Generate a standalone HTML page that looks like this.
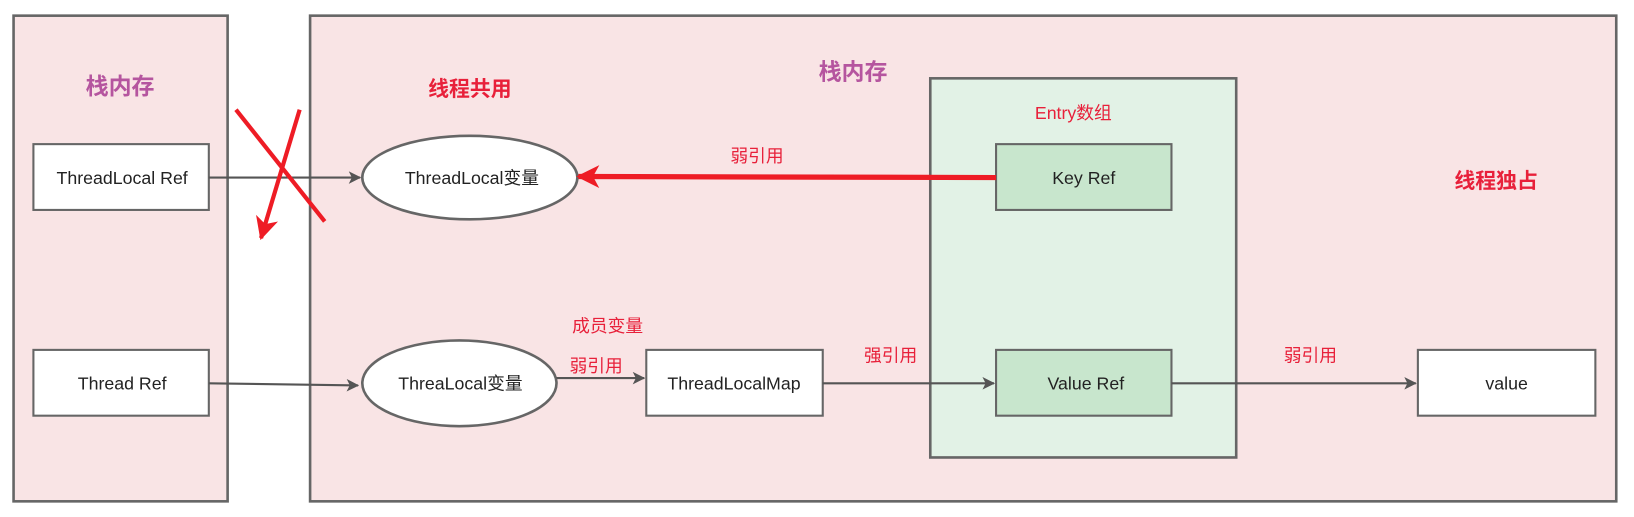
<!DOCTYPE html>
<html><head><meta charset="utf-8"><style>
html,body{margin:0;padding:0;background:#fff;width:1634px;height:517px;overflow:hidden}
svg{display:block}
text{font-family:"Liberation Sans","Noto Sans CJK SC",sans-serif}
</style></head><body>
<svg width="1634" height="517" viewBox="0 0 1565 495" preserveAspectRatio="none" xmlns="http://www.w3.org/2000/svg">
<defs>
<marker id="a" markerWidth="12" markerHeight="12" refX="11" refY="6" orient="auto" markerUnits="userSpaceOnUse"><path d="M0,0 L12,6 L0,12 L3,6 z" fill="#555"/></marker>
<marker id="r" markerWidth="22" markerHeight="22" refX="20" refY="11" orient="auto" markerUnits="userSpaceOnUse"><path d="M0,0 L22,11 L0,22 L6,11 z" fill="#ee1c25"/></marker>
</defs>
<rect x="13" y="15" width="205" height="465" fill="#f9e4e5" stroke="#666" stroke-width="2.5"/>
<rect x="297" y="15" width="1251" height="465" fill="#f9e4e5" stroke="#666" stroke-width="2.5"/>
<rect x="891" y="75" width="293" height="363" fill="#e2f2e6" stroke="#666" stroke-width="2.5"/>
<rect x="32" y="138" width="168" height="63" fill="#fff" stroke="#666" stroke-width="2"/>
<rect x="32" y="335" width="168" height="63" fill="#fff" stroke="#666" stroke-width="2"/>
<rect x="619" y="335" width="169" height="63" fill="#fff" stroke="#666" stroke-width="2"/>
<rect x="954" y="138" width="168" height="63" fill="#c8e6cd" stroke="#666" stroke-width="2"/>
<rect x="954" y="335" width="168" height="63" fill="#c8e6cd" stroke="#666" stroke-width="2"/>
<rect x="1358" y="335" width="170" height="63" fill="#fff" stroke="#666" stroke-width="2"/>
<ellipse cx="450" cy="170" rx="103" ry="40" fill="#fff" stroke="#666" stroke-width="2.5"/>
<ellipse cx="440" cy="367" rx="93" ry="41" fill="#fff" stroke="#666" stroke-width="2.5"/>
<g stroke="#555" stroke-width="2" fill="none" marker-end="url(#a)">
<line x1="200" y1="170" x2="345" y2="170"/>
<line x1="200" y1="367" x2="343" y2="369"/>
<line x1="533" y1="362" x2="617" y2="362"/>
<line x1="788" y1="367" x2="952" y2="367"/>
<line x1="1122" y1="367" x2="1356" y2="367"/>
</g>
<line x1="954" y1="170" x2="554" y2="169" stroke="#ee1c25" stroke-width="5" marker-end="url(#r)"/>
<line x1="226" y1="105" x2="311" y2="212" stroke="#ee1c25" stroke-width="4"/>
<line x1="287" y1="105" x2="250" y2="228" stroke="#ee1c25" stroke-width="4" marker-end="url(#r)"/>
<g font-size="17" fill="#222" text-anchor="middle">
<text x="117" y="176">ThreadLocal Ref</text>
<text x="117" y="373">Thread Ref</text>
<text x="452" y="176">ThreadLocal变量</text>
<text x="441" y="373">ThreaLocal变量</text>
<text x="703" y="373">ThreadLocalMap</text>
<text x="1038" y="176">Key Ref</text>
<text x="1040" y="373">Value Ref</text>
<text x="1443" y="373">value</text>
</g>
<g font-size="22" font-weight="bold" fill="#b5559f" text-anchor="middle">
<text x="115" y="90">栈内存</text>
<text x="817" y="76">栈内存</text>
</g>
<g font-size="20" font-weight="bold" fill="#e8203a" text-anchor="middle">
<text x="450" y="92">线程共用</text>
<text x="1433" y="180">线程独占</text>
</g>
<g font-size="17" fill="#e8203a" text-anchor="middle">
<text x="1028" y="114">Entry数组</text>
<text x="725" y="155">弱引用</text>
<text x="582" y="318">成员变量</text>
<text x="571" y="356">弱引用</text>
<text x="853" y="346">强引用</text>
<text x="1255" y="346">弱引用</text>
</g>
</svg>
</body></html>
